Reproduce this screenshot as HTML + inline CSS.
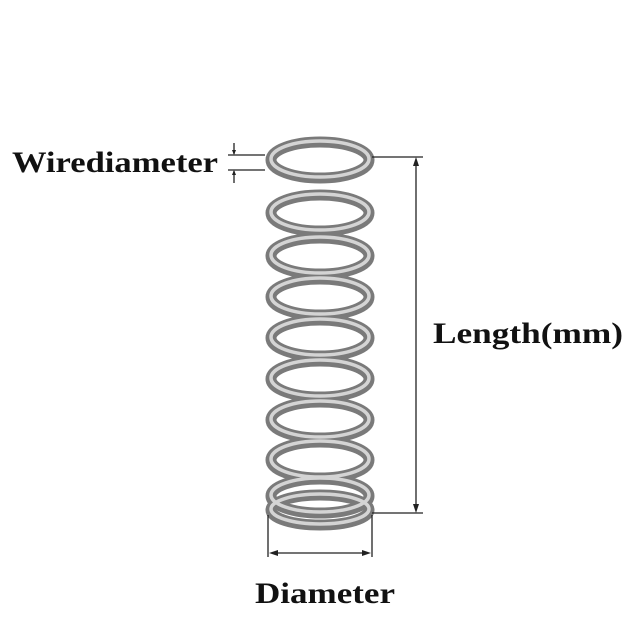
<!DOCTYPE html>
<html><head><style>body{margin:0;background:#fff}svg{display:block}</style></head>
<body>
<svg width="640" height="640" viewBox="0 0 640 640" xmlns="http://www.w3.org/2000/svg">
<g fill="none">
<g stroke="#7a7a7a" stroke-width="11">
<ellipse cx="320" cy="160" rx="49" ry="18"/>
<ellipse cx="320" cy="213" rx="49" ry="18"/>
<ellipse cx="320" cy="256" rx="49" ry="18"/>
<ellipse cx="320" cy="297" rx="49" ry="18"/>
<ellipse cx="320" cy="338" rx="49" ry="18"/>
<ellipse cx="320" cy="379" rx="49" ry="18"/>
<ellipse cx="320" cy="420" rx="49" ry="18"/>
<ellipse cx="320" cy="460" rx="49" ry="18"/>
<ellipse cx="320" cy="496" rx="49" ry="17"/>
<ellipse cx="320" cy="510" rx="49" ry="15"/>
</g>
<g stroke="#d4d4d4" stroke-width="3.5">
<ellipse cx="320" cy="159" rx="49" ry="18"/>
<ellipse cx="320" cy="212" rx="49" ry="18"/>
<ellipse cx="320" cy="255" rx="49" ry="18"/>
<ellipse cx="320" cy="296" rx="49" ry="18"/>
<ellipse cx="320" cy="337" rx="49" ry="18"/>
<ellipse cx="320" cy="378" rx="49" ry="18"/>
<ellipse cx="320" cy="419" rx="49" ry="18"/>
<ellipse cx="320" cy="459" rx="49" ry="18"/>
<ellipse cx="320" cy="495" rx="49" ry="17"/>
<ellipse cx="320" cy="509" rx="49" ry="15"/>
</g>
<g stroke="#222" stroke-width="1.3">
<line x1="372" y1="157" x2="423" y2="157"/>
<line x1="372" y1="513" x2="423" y2="513"/>
<line x1="416" y1="160" x2="416" y2="510"/>
<line x1="268" y1="515" x2="268" y2="557"/>
<line x1="372" y1="515" x2="372" y2="557"/>
<line x1="272" y1="553" x2="368" y2="553"/>
<line x1="228" y1="155" x2="265" y2="155"/>
<line x1="228" y1="170" x2="265" y2="170"/>
<line x1="234" y1="143" x2="234" y2="154"/>
<line x1="234" y1="171" x2="234" y2="183"/>
</g>
<g fill="#222">
<polygon points="416,157 413,166 419,166"/>
<polygon points="416,513 413,504 419,504"/>
<polygon points="269,553 278,550 278,556"/>
<polygon points="371,553 362,550 362,556"/>
<polygon points="234,155 232,150 236,150"/>
<polygon points="234,170 232,175 236,175"/>
</g>
</g>
<g font-family="'Liberation Serif',serif" font-weight="bold" fill="#111">
<text x="12" y="172" font-size="30" textLength="206" lengthAdjust="spacingAndGlyphs">Wirediameter</text>
<text x="433" y="343" font-size="30" textLength="190" lengthAdjust="spacingAndGlyphs">Length(mm)</text>
<text x="255" y="603" font-size="30" textLength="140" lengthAdjust="spacingAndGlyphs">Diameter</text>
</g>
</svg>
</body></html>
